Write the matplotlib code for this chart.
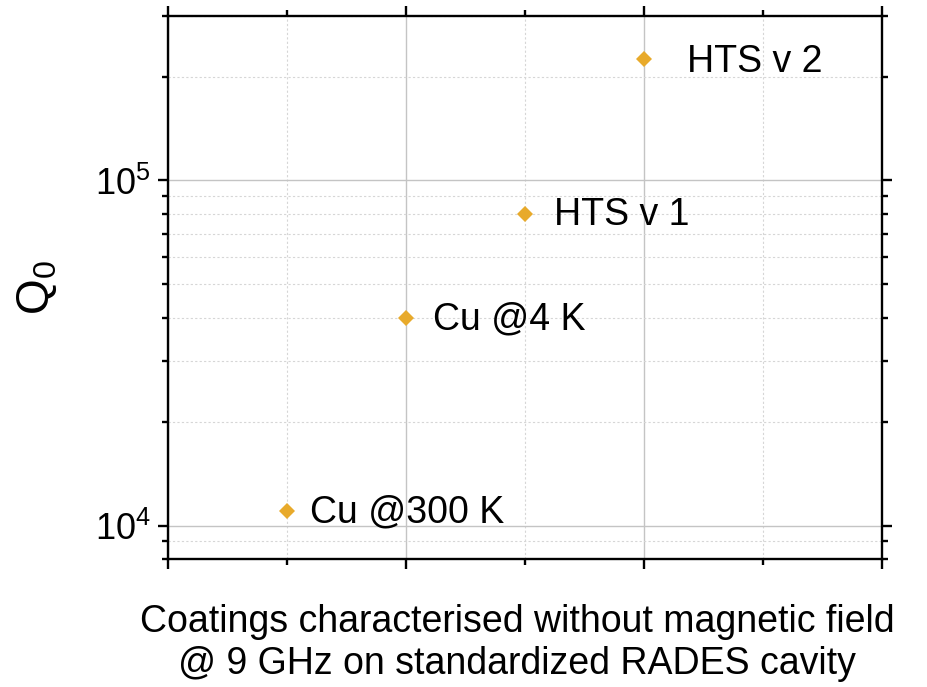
import numpy as np
import matplotlib
matplotlib.use("Agg")
import matplotlib.pyplot as plt
from matplotlib.ticker import MultipleLocator, LogLocator, NullFormatter

plt.rcParams['font.family'] = ['Liberation Sans', 'DejaVu Sans']
plt.rcParams['mathtext.fontset'] = 'custom'
plt.rcParams['mathtext.rm'] = 'Liberation Sans'
plt.rcParams['mathtext.it'] = 'Liberation Sans:italic'
plt.rcParams['mathtext.bf'] = 'Liberation Sans:bold'

# coatings measured at 9 GHz
samples = ['Cu @300 K', 'Cu @4 K', 'HTS v 1', 'HTS v 2']
position = [1, 2, 3, 4]
q0 = [1.1e4, 4.0e4, 8.0e4, 2.25e5]

label_offsets = [(17, -1), (20, -1), (21, -1), (31, -2)]

fig = plt.figure(figsize=(9.27, 6.87), dpi=100)
ax = fig.add_axes([0.1807, 0.1863, 0.7703, 0.7908])

ax.plot(position, q0, linestyle='none', marker='D', markersize=8,
        color='#E8AA2B', markeredgewidth=0, zorder=3)

for name, x, y, off in zip(samples, position, q0, label_offsets):
    ax.annotate(name, (x, y), xytext=off, textcoords='offset points',
                fontsize=27, va='center', ha='left')

ax.set_yscale('log')
ax.set_xlim(0, 6)
ax.set_ylim(8e3, 3e5)

ax.xaxis.set_major_locator(MultipleLocator(2))
ax.xaxis.set_minor_locator(MultipleLocator(1))
ax.xaxis.set_major_formatter(NullFormatter())
ax.yaxis.set_major_locator(LogLocator(base=10))
ax.yaxis.set_minor_locator(LogLocator(base=10, subs=np.arange(2, 10)))
ax.yaxis.set_minor_formatter(NullFormatter())

ax.grid(which='major', color='#c4c4c4', linewidth=1.0, linestyle='-')
ax.grid(which='minor', color='#d6d6d6', linewidth=0.8, linestyle=(0, (2, 2)))
ax.set_axisbelow(True)

for sp in ax.spines.values():
    sp.set_linewidth(1.7)
ax.tick_params(which='both', direction='out', top=True, right=True,
               labelsize=26, width=1.7, pad=5)
ax.tick_params(which='major', length=7)
ax.tick_params(which='minor', length=4)

ax.set_ylabel('Q$_0$', fontsize=33, labelpad=26)
ax.set_xlabel('Coatings characterised without magnetic field\n@ 9 GHz on standardized RADES cavity',
              fontsize=27, linespacing=1.22)
ax.xaxis.set_label_coords(0.49, -0.082, transform=ax.transAxes)
ax.xaxis.label.set_va('top')

fig.savefig('out.png', dpi=100)
